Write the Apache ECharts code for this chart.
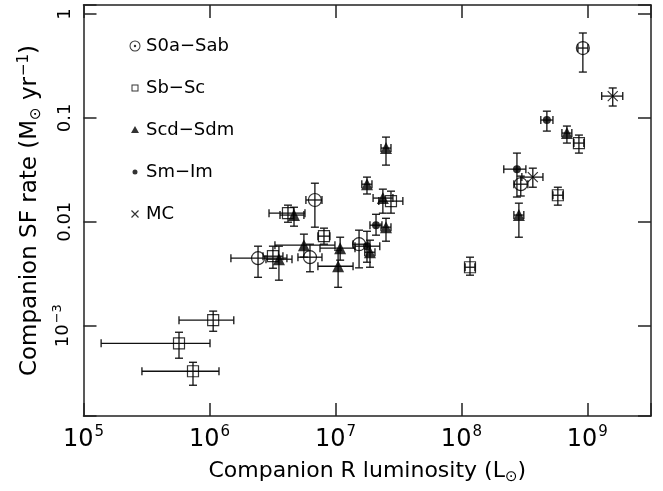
<!DOCTYPE html>
<html>
<head>
<meta charset="utf-8">
<script src="https://cdn.jsdelivr.net/npm/echarts@6/dist/echarts.min.js"></script>
<style>
html, body { margin: 0; padding: 0; background: #fff; }
#chart { width: 663px; height: 491px; }
</style>
</head>
<body>
<div id="chart"></div>
<script>
// each point: [L_R, SFR, L_lo, L_hi, SFR_lo, SFR_hi]
const s0aSab = [
  [2.43e6, 4.46e-3, 1.48e6, 4.12e6, 2.92e-3, 5.82e-3],
  [6.28e6, 4.56e-3, 5.04e6, 7.82e6, 3.3e-3, 6.08e-3],
  [6.87e6, 0.0162, 5.83e6, 7.82e6, 8.87e-3, 0.0235],
  [1.54e7, 6.08e-3, 1.38e7, 1.81e7, 3.6e-3, 8.3e-3],
  [2.96e8, 0.0230, 2.61e8, 3.37e8, 0.0177, 0.0275],
  [9.21e8, 0.470, 8.41e8, 1.01e9, 0.276, 0.656]
];
const sbSc = [
  [1.07e6, 1.13e-3, 5.73e5, 1.56e6, 8.83e-4, 1.38e-3],
  [5.73e5, 6.76e-4, 1.38e5, 1.01e6, 4.86e-4, 8.64e-4],
  [7.40e5, 3.64e-4, 2.91e5, 1.19e6, 2.67e-4, 4.44e-4],
  [3.19e6, 4.66e-3, 2.66e6, 3.83e6, 3.57e-3, 5.82e-3],
  [4.20e6, 0.0121, 2.97e6, 5.73e6, 9.9e-3, 0.01445],
  [8.11e6, 7.27e-3, 7.26e6, 9.04e6, 6.08e-3, 8.68e-3],
  [2.76e7, 0.0158, 2.21e7, 3.43e7, 0.0121, 0.0197],
  [1.17e8, 3.65e-3, 1.07e8, 1.28e8, 3.06e-3, 4.56e-3],
  [5.83e8, 0.0180, 5.33e8, 6.39e8, 0.01445, 0.0215],
  [8.57e8, 0.0572, 7.82e8, 9.38e8, 0.0458, 0.0683]
];
const scdSdm = [
  [3.56e6, 4.36e-3, 2.81e6, 4.52e6, 2.74e-3, 5.82e-3],
  [4.69e6, 0.0116, 3.63e6, 5.62e6, 9.07e-3, 0.0138],
  [5.62e6, 5.95e-3, 3.31e6, 9.91e6, 4.56e-3, 7.6e-3],
  [1.09e7, 5.57e-3, 7.54e6, 1.43e7, 4.27e-3, 7.1e-3],
  [1.05e7, 3.73e-3, 7.26e6, 1.38e7, 2.34e-3, 5.33e-3],
  [1.78e7, 0.0230, 1.62e7, 1.95e7, 0.0185, 0.0269],
  [2.38e7, 0.0169, 1.99e7, 2.86e7, 0.0121, 0.0206],
  [2.52e7, 8.87e-3, 2.30e7, 2.76e7, 6.5e-3, 0.0108],
  [1.88e7, 5.09e-3, 1.71e7, 2.06e7, 3.65e-3, 6.65e-3],
  [2.52e7, 0.0512, 2.30e7, 2.76e7, 0.0351, 0.0653],
  [2.86e8, 0.0116, 2.61e8, 3.13e8, 7.1e-3, 0.0151],
  [6.88e8, 0.0714, 6.28e8, 7.53e8, 0.0572, 0.0834]
];
const smIm = [
  [2.10e7, 9.27e-3, 1.88e7, 2.34e7, 7.43e-3, 0.0118],
  [1.78e7, 5.82e-3, 1.43e7, 2.25e7, 4.08e-3, 8.1e-3],
  [2.76e8, 0.0321, 2.17e8, 3.25e8, 0.0173, 0.0458],
  [4.77e8, 0.0953, 4.27e8, 5.33e8, 0.0746, 0.116]
];
const mc = [
  [3.69e8, 0.0269, 3.02e8, 4.44e8, 0.0215, 0.0328],
  [1.59e9, 0.162, 1.30e9, 1.91e9, 0.130, 0.194]
];

const classNames = ['S0a\u2212Sab', 'Sb\u2212Sc', 'Scd\u2212Sdm', 'Sm\u2212Im', 'MC'];
const xTickExps = [5, 6, 7, 8, 9];
const yTickExps = [-3, -2, -1, 0];
const yTickLabels = ['{b|10}{s|\u22123}', '{b|0.01}', '{b|0.1}', '{b|1}'];

const FONT = 'DejaVu Sans';
const pad = 'M0,0L0.01,0L0,0.01ZM12,12L11.99,12L12,11.99Z';
const legendIcons = [
  'path://' + pad + 'M6,0.5A5.5,5.5,0,1,1,6,11.5A5.5,5.5,0,1,1,6,0.5ZM6,1.5A4.5,4.5,0,1,0,6,10.5A4.5,4.5,0,1,0,6,1.5ZM6,4.8A1.2,1.2,0,1,1,6,7.2A1.2,1.2,0,1,1,6,4.8Z',
  'path://' + pad + 'M2.5,2.5H9.5V9.5H2.5ZM3.5,3.5V8.5H8.5V3.5Z',
  'path://' + pad + 'M6,2L10,9L2,9Z',
  'path://' + pad + 'M6,3.5A2.5,2.5,0,1,1,6,8.5A2.5,2.5,0,1,1,6,3.5Z',
  'path://' + pad + 'M2.92,2.08L9.92,9.08L9.08,9.92L2.08,2.92ZM9.92,2.92L2.92,9.92L2.08,9.08L9.08,2.08Z'
];

const isExp = (v, list) => {
  const e = Math.log10(v);
  const r = Math.round(e);
  return Math.abs(e - r) < 1e-6 && list.includes(r) ? r : null;
};

const errorBars = (params, api) => {
  const x = api.value(0), y = api.value(1);
  const c = api.coord([x, y]);
  const l = api.coord([api.value(2), y]);
  const r = api.coord([api.value(3), y]);
  const b = api.coord([x, api.value(4)]);
  const t = api.coord([x, api.value(5)]);
  const cap = 4;
  const style = { stroke: '#111', lineWidth: 1.3 };
  const line = (x1, y1, x2, y2) => ({ type: 'line', shape: { x1, y1, x2, y2 }, style });
  return {
    type: 'group',
    children: [
      line(l[0], c[1], r[0], c[1]),
      line(l[0], c[1] - cap, l[0], c[1] + cap),
      line(r[0], c[1] - cap, r[0], c[1] + cap),
      line(c[0], b[1], c[0], t[1]),
      line(c[0] - cap, b[1], c[0] + cap, b[1]),
      line(c[0] - cap, t[1], c[0] + cap, t[1])
    ]
  };
};

const frameLine = { show: true, lineStyle: { color: '#222', width: 1.5 } };
const tickStyle = { show: true, inside: true, length: 13, lineStyle: { color: '#222', width: 1.5 } };

const X_MIN = 1e5, X_MAX = 3.2e9, Y_MIN = 1.35e-4, Y_MAX = 1.22;

const chart = echarts.init(document.getElementById('chart'));
const open = { color: 'rgba(0,0,0,0)', borderColor: '#000', borderWidth: 1.2 };
const solid = { color: '#000' };

chart.setOption({
  animation: false,
  textStyle: { fontFamily: FONT, color: '#000' },
  grid: { left: 83.5, right: 12, top: 5, bottom: 75 },
  legend: {
    orient: 'vertical',
    left: 124,
    top: 32,
    itemWidth: 12,
    itemHeight: 12,
    itemGap: 24,
    selectedMode: false,
    textStyle: { fontFamily: FONT, fontSize: 18, color: '#000', lineHeight: 18 },
    data: classNames.map((name, i) => ({
      name,
      icon: legendIcons[i],
      itemStyle: { color: '#000', borderWidth: 0 }
    }))
  },
  xAxis: [
    {
      type: 'log', logBase: 10, min: X_MIN, max: X_MAX, position: 'bottom',
      axisLine: frameLine, axisTick: tickStyle, splitLine: { show: false }, minorTick: { show: false },
      axisLabel: {
        margin: 9,
        color: '#000',
        formatter: (v) => {
          const r = isExp(v, xTickExps);
          return r === null ? '' : `{b|10}{s|${r}}`;
        },
        rich: {
          b: { fontFamily: FONT, fontSize: 24, color: '#000' },
          s: { fontFamily: FONT, fontSize: 15, color: '#000', padding: [0, 0, 14, 1] }
        }
      },
      name: '{t|Companion R luminosity (L}{sub|\u2299}{t|)}',
      nameLocation: 'middle',
      nameGap: 42,
      nameTextStyle: {
        rich: {
          t: { fontFamily: FONT, fontSize: 22, color: '#000' },
          sub: { fontFamily: FONT, fontSize: 15, color: '#000', padding: [12, 0, 0, 0] }
        }
      }
    },
    {
      type: 'log', logBase: 10, min: X_MIN, max: X_MAX, position: 'top',
      axisLine: frameLine, axisTick: tickStyle, axisLabel: { show: false },
      splitLine: { show: false }, minorTick: { show: false }
    }
  ],
  yAxis: [
    {
      type: 'log', logBase: 10, min: Y_MIN, max: Y_MAX, position: 'left',
      axisLine: frameLine, axisTick: tickStyle, splitLine: { show: false }, minorTick: { show: false },
      axisLabel: {
        rotate: 90,
        margin: 9,
        color: '#000',
        formatter: (v) => {
          const r = isExp(v, yTickExps);
          return r === null ? '' : yTickLabels[yTickExps.indexOf(r)];
        },
        rich: {
          b: { fontFamily: FONT, fontSize: 18, color: '#000' },
          s: { fontFamily: FONT, fontSize: 13, color: '#000', padding: [0, 0, 10, 1] }
        }
      },
      name: '{t|Companion SF rate (M}{sub|\u2299}{t| yr}{sup|\u22121}{t|)}',
      nameLocation: 'middle',
      nameRotate: 90,
      nameGap: 36,
      nameTextStyle: {
        rich: {
          t: { fontFamily: FONT, fontSize: 23, color: '#000' },
          sub: { fontFamily: FONT, fontSize: 15, color: '#000', padding: [12, 0, 0, 0] },
          sup: { fontFamily: FONT, fontSize: 15, color: '#000', padding: [0, 0, 12, 1] }
        }
      }
    },
    {
      type: 'log', logBase: 10, min: Y_MIN, max: Y_MAX, position: 'right',
      axisLine: frameLine, axisTick: tickStyle, axisLabel: { show: false },
      splitLine: { show: false }, minorTick: { show: false }
    }
  ],
  series: [
    {
      type: 'custom',
      name: 'errors',
      silent: true,
      z: 1,
      renderItem: errorBars,
      encode: { x: 0, y: 1 },
      data: [].concat(s0aSab, sbSc, scdSdm, smIm, mc)
    },
    { type: 'scatter', name: classNames[0], symbol: 'circle', symbolSize: 13, itemStyle: open, z: 3, silent: true, data: s0aSab },
    { type: 'scatter', name: classNames[1], symbol: 'rect', symbolSize: 11, itemStyle: open, z: 3, silent: true, data: sbSc },
    { type: 'scatter', name: classNames[2], symbol: 'triangle', symbolSize: 12, itemStyle: solid, z: 3, silent: true, data: scdSdm },
    { type: 'scatter', name: classNames[3], symbol: 'circle', symbolSize: 8, itemStyle: solid, z: 3, silent: true, data: smIm },
    { type: 'scatter', name: classNames[4], symbol: 'path://M0,0L10,10M10,0L0,10', symbolSize: 10, itemStyle: open, z: 3, silent: true, data: mc }
  ]
});
</script>
</body>
</html>
